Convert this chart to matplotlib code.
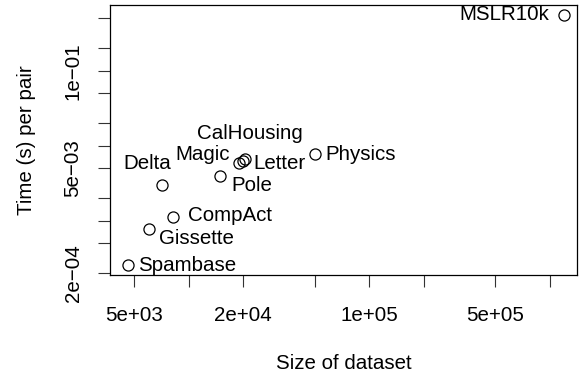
import matplotlib
matplotlib.use("Agg")
import matplotlib.pyplot as plt

plt.rcParams['font.family'] = ['Liberation Sans', 'DejaVu Sans']

# dataset sizes (number of examples) and time per pair (s)
datasets = ['MSLR10k', 'Spambase', 'Gissette', 'CompAct', 'Delta',
            'Pole', 'Magic', 'Letter', 'CalHousing', 'Physics']
sizes = [1200000, 4601, 6000, 8192, 7129, 15000, 19020, 20000, 20640, 50000]
times = [0.553, 2.56e-4, 7.8e-4, 1.135e-3, 2.97e-3, 3.95e-3,
         5.9e-3, 6.27e-3, 6.67e-3, 7.7e-3]

xticks = [5e3, 1e4, 2e4, 5e4, 1e5, 2e5, 5e5, 1e6]
xticklabels = ['5e+03', '', '2e+04', '', '1e+05', '', '5e+05', '']
yticks = [2e-4, 5e-4, 1e-3, 2e-3, 5e-3, 1e-2, 2e-2, 5e-2, 1e-1, 2e-1, 5e-1]
yticklabels = ['2e\u221204', '', '', '', '5e\u221203', '', '', '', '1e\u221201', '', '']

# label placement: (dx, dy) in pixels, horizontal alignment
label_pos = {
    'MSLR10k': (-15, 0, 'right'),
    'Spambase': (10.5, 0, 'left'),
    'Gissette': (10, -9.5, 'left'),
    'CompAct': (15, 1.5, 'left'),
    'Delta': (-14.5, 22, 'center'),
    'Pole': (10.5, -9.5, 'left'),
    'Magic': (-9, 8, 'right'),
    'Letter': (10, -2.5, 'left'),
    'CalHousing': (4.5, 25.5, 'center'),
    'Physics': (11, 0, 'left'),
}

fs = 14.8
fig = plt.figure(figsize=(5.86, 3.79), dpi=100)
ax = fig.add_axes([0.1882, 0.2744, 0.9841 - 0.1882, 0.9868 - 0.2744])

ax.plot(sizes, times, 'o', markersize=8, markerfacecolor='none',
        markeredgecolor='black', markeredgewidth=0.9)
ax.set_xscale('log')
ax.set_yscale('log')
ax.set_xlim(3680, 1.41e6)
ax.set_ylim(1.9e-4, 0.751)

for name, x, y in zip(datasets, sizes, times):
    dx, dy, ha = label_pos[name]
    ax.annotate(name, (x, y), xytext=(dx, dy), textcoords='offset pixels',
                ha=ha, va='center', fontsize=fs)

ax.minorticks_off()
ax.set_xticks(xticks)
ax.set_xticklabels(xticklabels)
ax.set_yticks(yticks)
ax.set_yticklabels(yticklabels, rotation=90, va='center')
ax.tick_params(axis='both', length=8.5, width=0.8, labelsize=fs, color='#333333')
ax.tick_params(axis='x', pad=13.5)
ax.tick_params(axis='y', pad=11.5)

for sp in ax.spines.values():
    sp.set_linewidth(0.9)

ax.set_xlabel('Size of dataset', fontsize=fs, labelpad=21)
ax.set_ylabel('Time (s) per pair', fontsize=fs, labelpad=19.5)

fig.savefig('out.png', dpi=100, facecolor='white')
